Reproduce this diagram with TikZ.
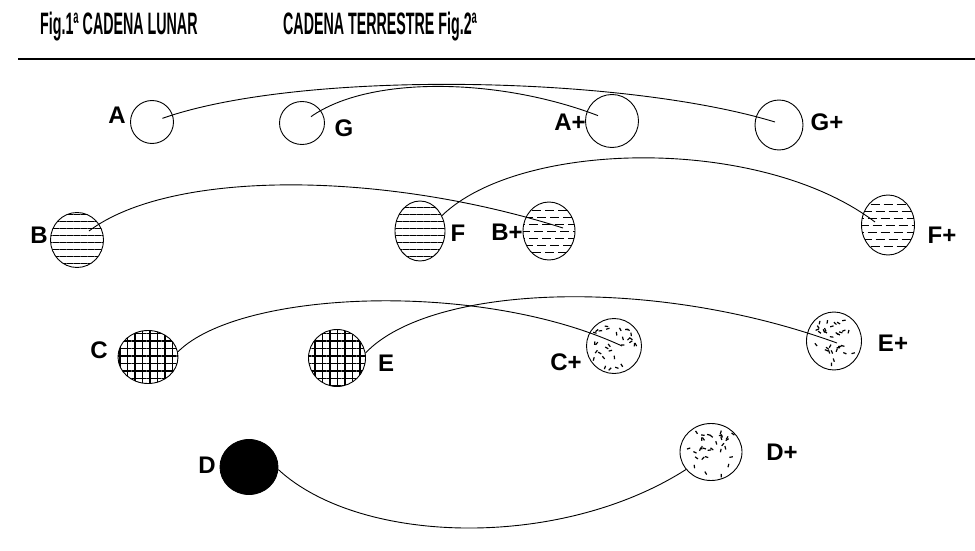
\documentclass[tikz,border=0pt]{standalone}
\usepackage{fontspec}
\setmainfont{Liberation Sans}
\usepackage{graphicx}
\usetikzlibrary{calc,shapes.geometric,patterns.meta}

\tikzset{
  ball/.style={ellipse,draw,line width=0.9pt,inner sep=0pt},
  empty/.style={ball},
  striped/.style={ball,pattern={Lines[angle=0,distance=7pt,line width=1pt]}},
  ragged/.style={ball,path picture={
      \foreach \k in {-3,...,3}{
        \pgfmathsetmacro\ph{abs(\k)*5+2}
        \draw[line width=1pt,dash pattern=on 9pt off 4pt,dash phase=\ph pt]
          ($(path picture bounding box.west)+(0,\k*7)$) -- ($(path picture bounding box.east)+(0,\k*7)$);
      }}},
  grid/.style={ball,pattern={Hatch[angle=0,distance=7.5pt,line width=1.2pt]}},
  speck/.style={ball,path picture={
      \pgfmathsetseed{\x}
      \foreach \i in {1,...,32}{
        \pgfmathsetmacro\px{rand*22}
        \pgfmathsetmacro\py{rand*22}
        \pgfmathsetmacro\pa{rnd*180}
        \draw[line width=1.2pt] ($(path picture bounding box.center)+(\px,\py)$) -- ++(\pa:3.5);
      }}},
  solid/.style={ball,fill=black},
  tag/.style={inner sep=0pt,font=\fontsize{24}{26}\selectfont\bfseries},
  head/.style={inner sep=0pt,anchor=west,font=\fontsize{31}{34}\selectfont\bfseries},
  link/.style={line width=0.9pt},
}

\begin{document}
\begin{tikzpicture}[x=1pt,y=-1pt]
    \useasboundingbox (0,0) rectangle (975,551);
    % titulos
    \node[head] (fig1) at (40,27) {\scalebox{0.46}[1]{Fig.1ª CADENA LUNAR}};
    \node[head] (fig2) at (283,27) {\scalebox{0.46}[1]{CADENA TERRESTRE Fig.2ª}};
    \draw[line width=2.2pt] (18,59) -- (975,59);
    % globos
    \foreach \n/\x/\y/\w/\h/\s in {A/152/122/43/43/empty, G/302/123/45/43/empty,
      Ap/612/121/53/53/empty, Gp/779/125/48/50/empty,
      B/77/240/53/55/striped, F/420/231/50/60/striped,
      Bp/549/231/52/58/ragged, Fp/888/225/53/60/ragged,
      C/148/357/60/53/grid, E/337/358/57/57/grid,
      Cp/614/346/55/55/speck, Ep/834/341/55/58/speck,
      D/249/467/58/55/solid, Dp/711/452/62/57/speck}{
      \node[\s,minimum width=\w pt,minimum height=\h pt] (\n) at (\x,\y) {};
    }
    % letras
    \foreach \n/\x/\y/\t in {lA/117/115/A, lG/344/128/G, lAp/570/122/A+, lGp/827/122/G+,
      lB/39/235/B, lF/458/233/F, lBp/507/232/B+, lFp/942/235/F+,
      lC/99/350/C, lE/386/363/E, lCp/566/362/C+, lEp/893/343/E+,
      lD/207/465/D, lDp/782/452/D+}{
      \node[tag] (\n) at (\x,\y) {\t};
    }
    % cadenas
    \draw[link,shorten <=11pt] (A.center) .. controls (300,70) and (620,75) .. ([xshift=-4pt,yshift=3pt]Gp.center);
    \draw[link,shorten <=11pt,shorten >=15pt] (G.center) .. controls (370,75) and (500,78) .. (Ap.center);
    \draw[link,shorten <=15pt] (B.center) .. controls (170,170) and (380,170) .. ([xshift=14pt,yshift=3pt]Bp.center);
    \draw[link] (F.35) .. controls (520,140) and (760,135) .. ([xshift=-13pt,yshift=3pt]Fp.center);
    \draw[link] (C.10) .. controls (240,290) and (480,280) .. ([xshift=8pt]Cp.center);
    \draw[link] (E.10) .. controls (430,285) and (650,275) .. ([xshift=3pt,yshift=-2pt]Ep.center);
    \draw[link] (D.-5) .. controls (360,545) and (560,550) .. (Dp.215);
\end{tikzpicture}
\end{document}
